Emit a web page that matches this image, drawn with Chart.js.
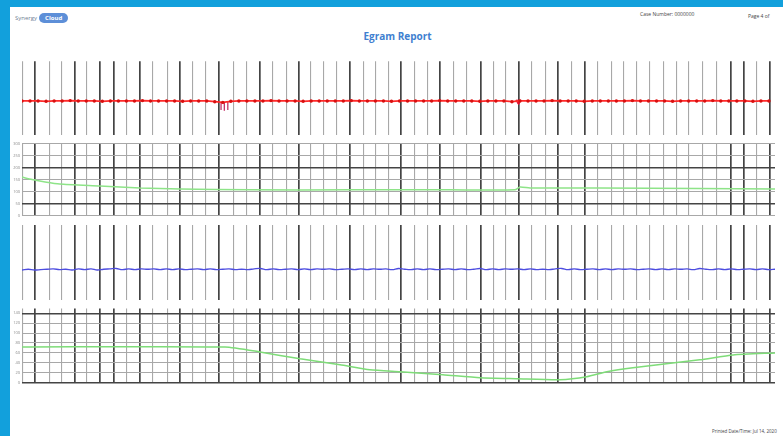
<!DOCTYPE html>
<html><head><meta charset="utf-8">
<script src="https://cdn.jsdelivr.net/npm/chart.js@4.4.0/dist/chart.umd.min.js"></script>
<style>
html,body{margin:0;padding:0;width:783px;height:436px;overflow:hidden;background:#fff;font-family:'Open Sans',Arial,sans-serif;}
#frameTop{position:absolute;left:0;top:0;width:783px;height:7px;background:#12a0dc}
#frameLeft{position:absolute;left:0;top:0;width:10px;height:436px;background:#12a0dc}
.cv{position:absolute;left:0}
#logo{position:absolute;left:15px;top:12px;height:12px;display:flex;align-items:center}
#logo .syn{font-size:6px;color:#6f7f95;margin-right:2px}
#logo .cloud{background:#5d8fd8;color:#fff;font-size:6px;font-weight:bold;border-radius:6px;padding:1px 6px;}
#caseNo{position:absolute;left:640px;top:11px;font-size:5px;color:#444;white-space:nowrap}
#page{position:absolute;left:748px;top:13px;font-size:5px;color:#444;white-space:nowrap}
#title{position:absolute;left:0;width:795px;top:29px;text-align:center;font-size:10px;font-weight:bold;color:#3f7fd0}
#footer{position:absolute;left:712px;top:428px;font-size:4.5px;color:#444;white-space:nowrap}
</style></head>
<body>
<div id="frameTop"></div><div id="frameLeft"></div>
<div id="logo"><span class="syn">Synergy</span><span class="cloud">Cloud</span></div>
<div id="caseNo">Case Number: 0000000</div>
<div id="page">Page 4 of</div>
<div id="title">Egram Report</div>
<canvas id="c1" class="cv" width="783" height="84" style="top:56px"></canvas>
<canvas id="c2" class="cv" width="783" height="81" style="top:139px"></canvas>
<canvas id="c3" class="cv" width="783" height="83" style="top:221px"></canvas>
<canvas id="c4" class="cv" width="783" height="83" style="top:304px"></canvas>
<div id="footer">Printed Date/Time: Jul 14, 2020</div>
<script>
// ---- data ----
const beatTimes = [0.04,0.52,1.08,1.59,2.11,2.59,3.11,3.67,4.18,4.70,5.22,5.78,6.29,6.81,7.33,7.85,8.41,8.96,9.48,10.00,10.52,11.04,11.51,12.03,12.55,13.07,13.59,14.10,14.62,15.10,15.62,16.14,16.65,17.21,17.73,18.29,18.80,19.28,19.80,20.32,20.84,21.35,21.91,22.43,22.95,23.47,23.98,24.50,25.02,25.54,26.06,26.57,27.13,27.69,28.25,28.76,29.28,29.80];
const beatStrong = [0,1,0,0,1,0,1,1,0,1,0,0,1,0,0,1,0,0,1,0,0,1,0,0,0,1,0,0,0,1,0,0,1,0,0,1,0,0,1,0,0,1,0,1,0,0,0,0,0,0,0,0,0,0,1,1,0,1];

const redStep = 0.32;
const redValues = [-0.08,-0.08,-0.08,-0.09,-0.08,-0.08,-0.07,-0.08,-0.08,-0.08,-0.09,-0.08,-0.08,-0.08,-0.08,-0.07,-0.08,-0.08,-0.08,-0.08,-0.09,-0.08,-0.08,-0.08,-0.10,-0.12,-0.09,-0.08,-0.08,-0.08,-0.08,-0.07,-0.08,-0.08,-0.08,-0.09,-0.08,-0.08,-0.08,-0.08,-0.08,-0.07,-0.08,-0.08,-0.08,-0.08,-0.09,-0.08,-0.08,-0.08,-0.08,-0.08,-0.07,-0.08,-0.08,-0.08,-0.08,-0.09,-0.08,-0.08,-0.08,-0.10,-0.08,-0.08,-0.08,-0.08,-0.07,-0.08,-0.08,-0.08,-0.09,-0.08,-0.08,-0.08,-0.08,-0.08,-0.07,-0.08,-0.08,-0.08,-0.08,-0.09,-0.08,-0.08,-0.08,-0.08,-0.07,-0.08,-0.08,-0.08,-0.08,-0.09,-0.08,-0.08];
const paceTimes = [7.93,8.06,8.20];
const paceValues = [-0.22,-0.24,-0.22];
const senseTimes = [19.78];
const senseValues = [-0.1];

const trendTimes = [0,0.4,0.92,1.5,3.1,4.7,6.3,9.1,13.1,17.05,19.64,19.84,20.24,23.0,27.0,30];
const trendValues = [3.2,3.0,2.8,2.63,2.47,2.3,2.22,2.14,2.14,2.14,2.14,2.38,2.3,2.3,2.26,2.22];
const trendLabels = ['0','50','100','150','200','250','300'];
const trendDark = [1,4];

const blueStep = 0.25;
const blueValues = [-0.20,-0.18,-0.20,-0.19,-0.18,-0.17,-0.19,-0.18,-0.20,-0.17,-0.19,-0.17,-0.20,-0.18,-0.17,-0.16,-0.19,-0.17,-0.19,-0.17,-0.18,-0.17,-0.19,-0.17,-0.19,-0.17,-0.19,-0.18,-0.17,-0.19,-0.17,-0.19,-0.18,-0.17,-0.19,-0.18,-0.19,-0.17,-0.16,-0.19,-0.17,-0.19,-0.18,-0.17,-0.19,-0.17,-0.19,-0.17,-0.18,-0.17,-0.19,-0.18,-0.17,-0.19,-0.17,-0.19,-0.17,-0.18,-0.17,-0.19,-0.16,-0.18,-0.19,-0.17,-0.19,-0.17,-0.19,-0.18,-0.17,-0.19,-0.17,-0.19,-0.18,-0.16,-0.19,-0.17,-0.19,-0.17,-0.18,-0.17,-0.19,-0.17,-0.19,-0.18,-0.19,-0.17,-0.16,-0.19,-0.17,-0.19,-0.18,-0.17,-0.19,-0.17,-0.19,-0.17,-0.18,-0.17,-0.19,-0.18,-0.17,-0.19,-0.17,-0.19,-0.17,-0.18,-0.17,-0.19,-0.16,-0.18,-0.19,-0.17,-0.19,-0.17,-0.19,-0.18,-0.17,-0.19,-0.17,-0.19,-0.18];

const rateTimes = [0,8.09,9.48,11.08,12.67,13.86,15.06,16.77,18.25,19.72,21.43,22.5,23.3,24.34,27.0,28.33,30];
const rateValues = [7.2,7.2,6.2,4.8,3.6,2.6,2.2,1.6,1.0,0.8,0.6,1.2,2.2,3.0,4.6,5.6,6.0];
const rateLabels = ['0','10','20','30','40','50','60','70','80','90','100','110','120','130','140','150'];
const rateDark = [0,1,9,14];

// ---- helpers ----
const LIGHT = '#a8a8a8', DARK = '#444444';
function xScale(){
  return {type:'linear',min:0,max:30,
    afterBuildTicks:s=>{s.ticks=beatTimes.map(v=>({value:v}));},
    afterFit:s=>{s.height=0;},
    grid:{drawTicks:false,color:c=>beatStrong[c.index]?DARK:LIGHT,lineWidth:c=>beatStrong[c.index]?1.7:1.1},
    border:{display:false},ticks:{display:false}};
}
function yScale(min,max,labels,dark){
  const o={min:min,max:max,afterFit:s=>{s.width=22;},border:{display:false}};
  if(labels){
    o.afterBuildTicks=s=>{s.ticks=labels.map((l,i)=>({value:i}));};
    o.grid={drawTicks:false,color:c=>dark.includes(c.tick.value)?DARK:LIGHT,lineWidth:c=>dark.includes(c.tick.value)?1.6:1.1};
    o.ticks={font:{size:4,family:'Open Sans'},color:'#888',padding:2,callback:v=>labels[v]};
  } else {
    o.grid={display:false};o.ticks={display:false};
  }
  return o;
}
function panel(id,datasets,y){
  new Chart(document.getElementById(id),{type:'line',data:{datasets:datasets},
    options:{responsive:false,animation:false,parsing:true,
      layout:{padding:{top:4,bottom:4,left:0,right:8}},
      plugins:{legend:{display:false},tooltip:{enabled:false}},
      scales:{x:xScale(),y:y}}});
}
const pts=(xs,ys)=>ys.map((v,i)=>({x:xs[i],y:v}));
const stepPts=(step,ys)=>ys.map((v,i)=>({x:i*step,y:v}));

panel('c1',[
  {data:stepPts(redStep,redValues),borderColor:'#ff2a2a',borderWidth:1.7,pointRadius:1.7,pointBackgroundColor:'#d81010',pointBorderWidth:0,tension:0},
  {data:pts(paceTimes,paceValues),showLine:false,pointStyle:'line',rotation:90,pointRadius:4,borderColor:'#c0205a',pointBorderWidth:1.2},
  {data:pts(senseTimes,senseValues),showLine:false,pointStyle:'triangle',rotation:180,pointRadius:3,pointBackgroundColor:'#e01030',borderColor:'#e01030'}
],yScale(-1,1));
panel('c2',[{data:pts(trendTimes,trendValues),borderColor:'#8ee488',borderWidth:1.5,pointRadius:0,tension:0.2}],yScale(0,6,trendLabels,trendDark));
panel('c3',[{data:stepPts(blueStep,blueValues),borderColor:'#4d4de0',borderWidth:1.3,pointRadius:0,tension:0.4}],yScale(-1,1));
panel('c4',[{data:pts(rateTimes,rateValues),borderColor:'#7edc78',borderWidth:1.5,pointRadius:0,tension:0.2}],yScale(0,15,rateLabels,rateDark));
</script>
</body></html>
